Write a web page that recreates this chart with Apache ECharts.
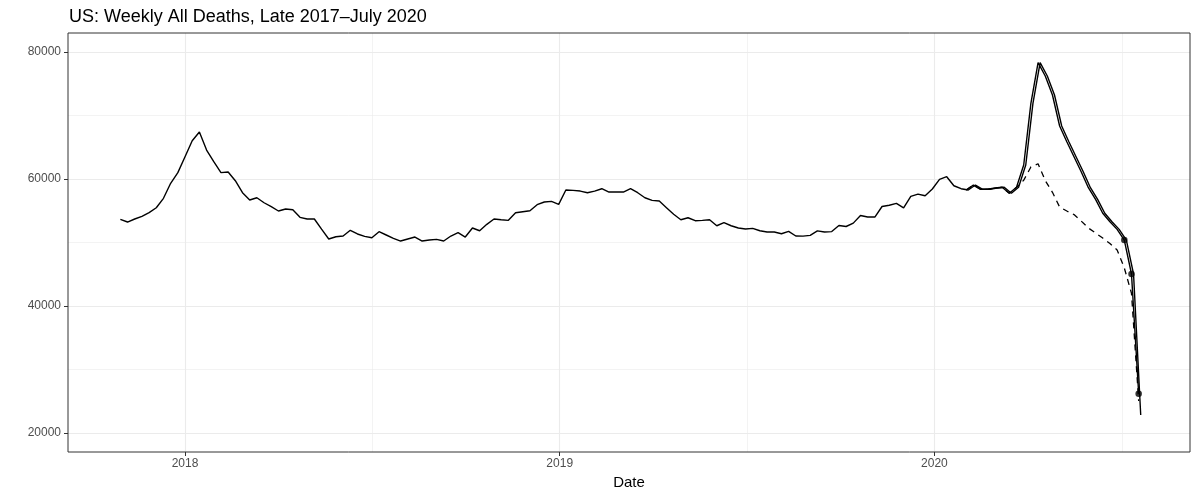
<!DOCTYPE html>
<html>
<head>
<meta charset="utf-8">
<script src="https://cdn.jsdelivr.net/npm/echarts@6/dist/echarts.min.js"></script>
<style>
html,body{margin:0;padding:0;background:#ffffff;}
#chart{width:1200px;height:500px;}
</style>
</head>
<body>
<div id="chart"></div>
<script>
// ---- data ----
const chartTitle = 'US: Weekly All Deaths, Late 2017\u2013July 2020';
const xAxisTitle = 'Date';

// weekly all deaths, full history (weekly from this date)
const allDeathsStart = '2017-10-30';
const allDeaths = [
  53650, 53225, 53700, 54125, 54700, 55480, 56960, 59320, 61000, 63510,
  66030, 67400, 64560, 62720, 61000, 61100, 59730, 57840, 56690, 57050,
  56260, 55640, 54960, 55270, 55160, 53960, 53700, 53700, 52100, 50550,
  50900, 51020, 51920, 51340, 50970, 50750, 51700, 51180, 50660, 50230,
  50550, 50860, 50230, 50390, 50500, 50230, 51020, 51540, 50860, 52280,
  51850, 52860, 53700, 53590, 53490, 54690, 54850, 55000, 55950, 56375,
  56480, 56010, 58260, 58210, 58100, 57840, 58100, 58470, 57950, 57950,
  57950, 58470, 57840, 57050, 56640, 56530, 55480, 54440, 53590, 53900,
  53430, 53490, 53590, 52640, 53120, 52640, 52280, 52120, 52230, 51850,
  51650, 51650, 51380, 51760, 51020, 51000, 51130, 51830, 51650, 51720,
  52680, 52520, 53050, 54250, 54010, 54010, 55670, 55860, 56170, 55450,
  57270, 57620, 57370, 58420, 59950, 60360, 58940, 58470, 58260, 59050,
  58380, 58380, 58580, 58690, 57750, 58690, 62200, 71920, 78320, 76220,
  73230, 68350, 65870, 63510, 61150, 58630, 56800, 54600, 53270, 52070,
  50390, 45040, 22830
];

// 2020 release (weekly from this date)
const recentStart = '2020-02-01';
const recentDeaths = [
  58260, 59050, 58380, 58380, 58580, 58690, 57750, 58690, 62200, 71920,
  78320, 76220, 73230, 68350, 65870, 63510, 61150, 58630, 56800, 54600,
  53270, 52070, 50390, 45040, 26180
];
// same weeks, dashed line
const dashedDeaths = [
  58260, 59050, 58380, 58380, 58580, 58690, 57750, 58690, 59800, 61900,
  62400, 59760, 57900, 55590, 54960, 54400, 53380, 52280, 51490, 50700,
  49840, 48820, 46000, 42000, 25030
];
const markedWeeks = 3; // last weeks drawn with points

const xTickDates = ['2018-01-01', '2019-01-01', '2020-01-01'];
const yTickValues = [20000, 40000, 60000, 80000];
const yMinorValues = [30000, 50000, 70000];

// ---- build ----
const DAY = 86400000;
const weekly = (start, vals) => vals.map((v, i) => [Date.parse(start) + i * 7 * DAY, v]);
const lineA = weekly(allDeathsStart, allDeaths);
const lineB = weekly(recentStart, recentDeaths);
const lineD = weekly(recentStart, dashedDeaths);
const pts = lineB.slice(-markedWeeks);

const xMin = Date.UTC(2017, 8, 9);
const xMax = Date.UTC(2020, 8, 6);
const yMin = 17008, yMax = 82992;

const xTicks = xTickDates.map(Date.parse);
const xMinor = xTicks.map(t => {
  const y = new Date(t).getUTCFullYear();
  return (t + Date.UTC(y + 1, 0, 1)) / 2;
}).filter(t => t > xMin && t < xMax);

const GRID = '#EBEBEB';
const gl = (key, v, w) => ({ [key]: v, lineStyle: { color: GRID, width: w, type: 'solid' } });
const gridLines = [
  ...xMinor.map(t => gl('xAxis', t, 0.6)),
  ...yMinorValues.map(v => gl('yAxis', v, 0.6)),
  ...xTicks.map(t => gl('xAxis', t, 1.1)),
  ...yTickValues.map(v => gl('yAxis', v, 1.1))
];

const FONT = 'Liberation Sans, Arial, sans-serif';
const chart = echarts.init(document.getElementById('chart'), null, { renderer: 'canvas' });
chart.setOption({
  animation: false,
  backgroundColor: '#ffffff',
  title: {
    text: chartTitle,
    left: 64, top: 3,
    textStyle: { fontFamily: FONT, fontSize: 18, fontWeight: 'normal', color: '#000000' }
  },
  grid: {
    left: 68, right: 10, top: 33, bottom: 48,
    show: true, borderColor: '#333333', borderWidth: 1, backgroundColor: 'transparent', z: 0
  },
  xAxis: {
    type: 'value', min: xMin, max: xMax,
    name: xAxisTitle, nameLocation: 'middle', nameGap: 23,
    nameTextStyle: { fontFamily: FONT, fontSize: 15, color: '#000000' },
    axisLine: { show: false },
    axisTick: { show: true, length: 4, customValues: xTicks, lineStyle: { color: '#333333' } },
    axisLabel: {
      customValues: xTicks, margin: 6,
      fontFamily: FONT, fontSize: 12, color: '#4D4D4D',
      formatter: v => String(new Date(v).getUTCFullYear())
    },
    splitLine: { show: false }
  },
  yAxis: {
    type: 'value', min: yMin, max: yMax,
    axisLine: { show: false },
    axisTick: { show: true, length: 4, customValues: yTickValues, lineStyle: { color: '#333333' } },
    axisLabel: {
      customValues: yTickValues, margin: 7,
      fontFamily: FONT, fontSize: 12, color: '#4D4D4D',
      formatter: v => String(v)
    },
    splitLine: { show: false }
  },
  series: [
    {
      name: 'grid', type: 'line', data: [], z: -1, silent: true,
      markLine: { z: -1, silent: true, symbol: ['none', 'none'], label: { show: false }, animation: false, data: gridLines }
    },
    {
      name: 'dashed', type: 'line', data: lineD, showSymbol: false, z: 3,
      lineStyle: { color: '#000000', width: 1.3, type: [6, 5] }
    },
    {
      name: 'all', type: 'line', data: lineA, showSymbol: false, z: 3,
      lineStyle: { color: '#000000', width: 1.4 }
    },
    {
      name: 'recent', type: 'line', data: lineB, showSymbol: false, z: 3,
      lineStyle: { color: '#000000', width: 1.4 }
    },
    {
      name: 'partial', type: 'scatter', data: pts, z: 4,
      symbol: 'circle', symbolSize: 6.5, itemStyle: { color: '#000000' }
    }
  ]
});
</script>
</body>
</html>
